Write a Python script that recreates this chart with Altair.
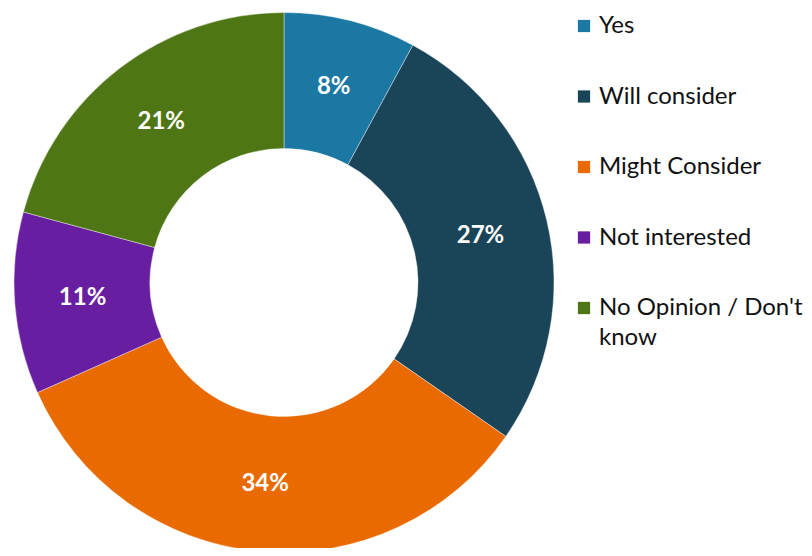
import altair as alt
import pandas as pd

categories = ["Yes", "Will consider", "Might Consider", "Not interested", "No Opinion / Don't know"]
values = [8, 27, 34, 11, 21]
labels = ["8%", "27%", "34%", "11%", "21%"]
colors = ["#1a78a2", "#1a4457", "#e86a00", "#681ea0", "#4f7614"]

df = pd.DataFrame({
    "category": categories,
    "value": values,
    "label": labels,
    "order": list(range(len(categories))),
})

cx, cy = 276, 274.5

base = alt.Chart(df).encode(
    theta=alt.Theta("value:Q", stack=True),
    order=alt.Order("order:Q"),
)

arcs = base.mark_arc(outerRadius=270, innerRadius=134, stroke="white", strokeWidth=0.4).encode(
    x=alt.value(cx),
    y=alt.value(cy),
    color=alt.Color(
        "category:N",
        sort=categories,
        scale=alt.Scale(domain=categories, range=colors),
        legend=alt.Legend(
            title=None,
            orient="none",
            legendX=564,
            legendY=6,
            padding=0,
            symbolType="square",
            symbolSize=150,
            symbolStrokeWidth=0,
            labelFont="Lato",
            labelFontSize=24,
            labelColor="#111111",
            labelOffset=3,
            labelLimit=300,
            rowPadding=46.5,
            labelExpr="datum.label == \"No Opinion / Don't know\" ? [\"No Opinion / Don't\", 'know'] : datum.label",
        ),
    ),
)

text = base.mark_text(radius=202, font="Lato", fontWeight="bold", fontSize=24, color="white").encode(
    x=alt.value(cx),
    y=alt.value(cy),
    text="label:N",
)

chart = alt.layer(arcs, text).properties(
    width=796,
    height=540,
    padding=0,
    autosize=alt.AutoSizeParams(type="none"),
).configure(
    style={"guide-label": {"lineHeight": 30}},
    view=alt.ViewConfig(stroke=None),
)

chart.save("out.html", embed_options={"renderer": "svg", "actions": False})
